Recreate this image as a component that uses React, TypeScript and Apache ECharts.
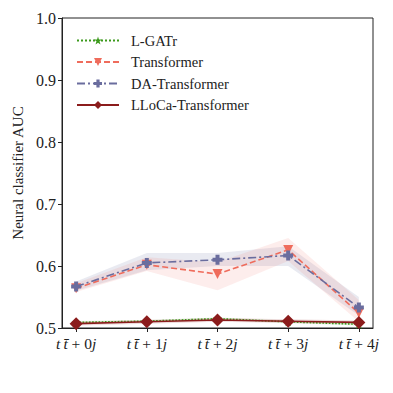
import React, { useEffect, useRef } from "react";
import * as echarts from "echarts";

const xPositions = [0, 1, 2, 3, 4];
const xTickLabels = ["0", "1", "2", "3", "4"];
const yTicks = [0.5, 0.6, 0.7, 0.8, 0.9, 1.0];

const lgatrMean = [0.509, 0.511, 0.515, 0.510, 0.506];
const lgatrLow = [0.507, 0.509, 0.513, 0.508, 0.504];
const lgatrHigh = [0.511, 0.513, 0.517, 0.512, 0.508];

const transMean = [0.564, 0.602, 0.587, 0.626, 0.524];
const transLow = [0.558, 0.592, 0.561, 0.608, 0.510];
const transHigh = [0.572, 0.614, 0.606, 0.645, 0.545];

const daMean = [0.567, 0.605, 0.610, 0.617, 0.533];
const daLow = [0.560, 0.593, 0.600, 0.600, 0.520];
const daHigh = [0.575, 0.621, 0.621, 0.632, 0.550];

const llocaMean = [0.507, 0.510, 0.513, 0.511, 0.509];
const llocaLow = [0.504, 0.507, 0.510, 0.508, 0.506];
const llocaHigh = [0.510, 0.513, 0.516, 0.514, 0.512];

const FONT = "Liberation Serif";

const STAR =
  "path://M50,0 L61.8,35.4 L100,35.4 L69.1,57.3 L80.9,95.1 L50,73.2 L19.1,95.1 L30.9,57.3 L0,35.4 L38.2,35.4 Z";
const PLUS =
  "path://M30,0 L70,0 L70,30 L100,30 L100,70 L70,70 L70,100 L30,100 L30,70 L0,70 L0,30 L30,30 Z";

function band(name: string, low: number[], high: number[], color: string) {
  return {
    type: "custom",
    name: name + "-band",
    silent: true,
    z: 1,
    data: xPositions.map((x) => [x, low[0]]),
    renderItem: (params: any, api: any) => {
      if (params.dataIndex !== 0) return null;
      const pts: number[][] = [];
      for (let i = 0; i < xPositions.length; i++) pts.push(api.coord([xPositions[i], high[i]]));
      for (let i = xPositions.length - 1; i >= 0; i--) pts.push(api.coord([xPositions[i], low[i]]));
      return {
        type: "polygon",
        shape: { points: pts },
        style: { fill: color, stroke: null },
      };
    },
  };
}

function line(
  name: string,
  mean: number[],
  color: string,
  lineType: any,
  symbol: string,
  symbolSize: number,
  z: number,
  rotate = 0
) {
  return {
    type: "line",
    name,
    z,
    data: xPositions.map((x, i) => [x, mean[i]]),
    symbol,
    symbolSize,
    symbolRotate: rotate,
    showAllSymbol: true,
    lineStyle: { color, width: 1.6, type: lineType },
    itemStyle: { color, borderWidth: 0 },
  };
}

export default function App() {
  const ref = useRef<HTMLDivElement>(null);
  useEffect(() => {
    if (!ref.current) return;
    const chart = echarts.init(ref.current, null, { renderer: "svg" });
    chart.setOption({
      animation: false,
      backgroundColor: "#ffffff",
      textStyle: { fontFamily: FONT },
      grid: {
        left: 62,
        top: 18,
        right: 20,
        bottom: 65,
        containLabel: false,
        outerBoundsMode: "none",
        show: true,
        borderColor: "#222",
        borderWidth: 1,
        backgroundColor: "transparent",
      },
      legend: {
        orient: "vertical",
        left: 71,
        top: 28,
        itemWidth: 42,
        itemHeight: 10,
        itemGap: 6.5,
        data: ["L-GATr", "Transformer", "DA-Transformer", "LLoCa-Transformer"],
        textStyle: {
          fontFamily: FONT,
          fontSize: 14.5,
          color: "#222",
          padding: [0, 0, 0, 7],
        },
      },
      xAxis: {
        type: "value",
        min: -0.2,
        max: 4.2,
        splitLine: { show: false },
        axisLine: { show: true, onZero: false, lineStyle: { color: "#222", width: 1 } },
        axisTick: {
          show: true,
          customValues: xPositions,
          length: 4,
          lineStyle: { color: "#222" },
        },
        axisLabel: {
          customValues: xPositions,
          margin: 7,
          formatter: (v: number) => {
            const idx = xPositions.indexOf(Math.round(v));
            return "{i|t\u2009t\u0304}{r| + " + xTickLabels[idx] + "}{i|j}";
          },
          rich: {
            i: { fontFamily: FONT, fontSize: 15.5, fontStyle: "italic", color: "#222" },
            r: { fontFamily: FONT, fontSize: 15.5, color: "#222" },
          },
        },
      },
      yAxis: {
        type: "value",
        min: 0.5,
        max: 1.0,
        interval: 0.1,
        name: "Neural classifier AUC",
        nameLocation: "middle",
        nameGap: 35,
        nameRotate: 90,
        nameTextStyle: { fontFamily: FONT, fontSize: 15, color: "#222" },
        splitLine: { show: false },
        axisLine: { show: true, onZero: false, lineStyle: { color: "#222", width: 1 } },
        axisTick: { show: true, length: 4, lineStyle: { color: "#222" } },
        axisLabel: {
          margin: 6,
          fontFamily: FONT,
          fontSize: 16,
          color: "#222",
          formatter: (v: number) => (yTicks.some((t) => Math.abs(t - v) < 1e-6) ? v.toFixed(1) : ""),
        },
      },
      series: [
        band("DA-Transformer", daLow, daHigh, "rgba(110,112,160,0.15)"),
        band("Transformer", transLow, transHigh, "rgba(240,110,95,0.12)"),
        band("L-GATr", lgatrLow, lgatrHigh, "rgba(60,150,30,0.15)"),
        band("LLoCa-Transformer", llocaLow, llocaHigh, "rgba(140,30,30,0.15)"),
        line("L-GATr", lgatrMean, "#3c9a1c", "dotted", STAR, 9, 3),
        line("Transformer", transMean, "#ef6c5c", [6, 3], "triangle", 10, 4, 180),
        line("DA-Transformer", daMean, "#6a6d9e", [8, 3, 2, 3], PLUS, 10, 5),
        line("LLoCa-Transformer", llocaMean, "#8b1c1c", "solid", "diamond", 13, 6),
      ],
    });
    return () => chart.dispose();
  }, []);
  return <div ref={ref} style={{ width: 393, height: 393, margin: -8 }} />;
}
